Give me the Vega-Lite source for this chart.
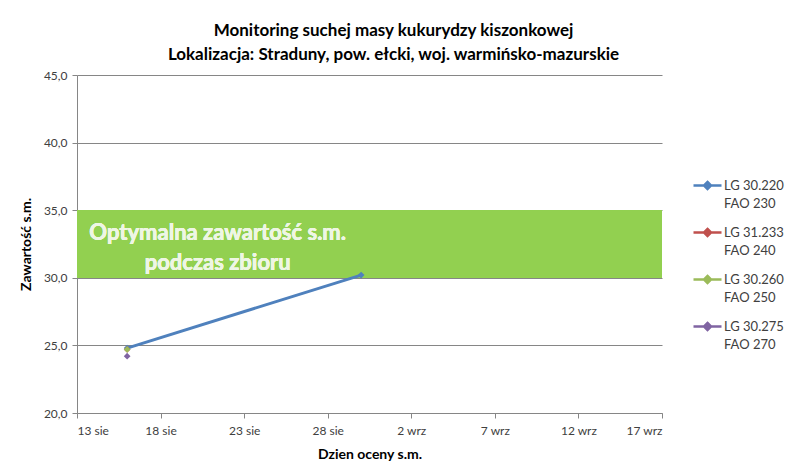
{
  "$schema": "https://vega.github.io/schema/vega-lite/v6.json",
  "width": 585,
  "height": 338,
  "autosize": {"type": "none"},
  "padding": {"left": 77, "top": 75, "right": 138, "bottom": 58},
  "background": "white",
  "title": {
    "text": ["Monitoring suchej masy kukurydzy kiszonkowej", "Lokalizacja: Straduny, pow. ełcki, woj. warmińsko-mazurskie"],
    "font": "Lato",
    "fontSize": 17,
    "fontWeight": "bold",
    "color": "#000000",
    "lineHeight": 24,
    "anchor": "middle",
    "dx": 24,
    "offset": 5
  },
  "config": {
    "view": {"stroke": null},
    "font": "Lato",
    "axis": {
      "labelFont": "Lato",
      "labelFontSize": 12,
      "labelColor": "#404040",
      "titleFont": "Lato",
      "titleFontSize": 14,
      "titleFontWeight": "bold",
      "titleColor": "#000000",
      "domainColor": "#868686",
      "tickColor": "#868686",
      "gridColor": "#868686",
      "tickSize": 5
    }
  },
  "data": {
    "values": [
      {"date": "2013/08/16", "value": 24.8, "series": "LG 30.220|FAO 230"},
      {"date": "2013/08/30", "value": 30.2, "series": "LG 30.220|FAO 230"},
      {"date": "2013/08/16", "value": 24.7, "series": "LG 31.233|FAO 240"},
      {"date": "2013/08/16", "value": 24.7, "series": "LG 30.260|FAO 250"},
      {"date": "2013/08/16", "value": 24.2, "series": "LG 30.275|FAO 270"}
    ]
  },
  "encoding": {
    "x": {
      "field": "date",
      "type": "temporal",
      "title": "Dzien oceny s.m.",
      "scale": {"domain": [{"year": 2013, "month": 8, "date": 13}, {"year": 2013, "month": 9, "date": 17}]},
      "axis": {
        "grid": false,
        "values": [
          {"year": 2013, "month": 8, "date": 13},
          {"year": 2013, "month": 8, "date": 18},
          {"year": 2013, "month": 8, "date": 23},
          {"year": 2013, "month": 8, "date": 28},
          {"year": 2013, "month": 9, "date": 2},
          {"year": 2013, "month": 9, "date": 7},
          {"year": 2013, "month": 9, "date": 12},
          {"year": 2013, "month": 9, "date": 17}
        ],
        "labelExpr": "date(datum.value) + ' ' + (month(datum.value) == 7 ? 'sie' : 'wrz')",
        "labelPadding": 7,
        "titlePadding": 11
      }
    },
    "y": {
      "field": "value",
      "type": "quantitative",
      "title": "Zawartość s.m.",
      "scale": {"domain": [20, 45], "nice": false, "zero": false},
      "axis": {
        "values": [20, 25, 30, 35, 40, 45],
        "labelExpr": "replace(format(datum.value, '.1f'), '.', ',')",
        "labelPadding": 5,
        "titlePadding": 10
      }
    }
  },
  "layer": [
    {
      "mark": {"type": "rect", "color": "#92D050", "opacity": 1},
      "encoding": {
        "x": {"datum": {"year": 2013, "month": 8, "date": 13}, "type": "temporal"},
        "x2": {"datum": {"year": 2013, "month": 9, "date": 17}},
        "y": {"datum": 30},
        "y2": {"datum": 35}
      }
    },
    {
      "mark": {
        "type": "text",
        "text": ["Optymalna zawartość s.m.", "podczas zbioru"],
        "font": "Lato",
        "fontSize": 22,
        "fontWeight": "bold",
        "color": "#EEF6E4",
        "lineHeight": 30,
        "align": "center",
        "baseline": "middle"
      },
      "encoding": {
        "x": {"datum": {"year": 2013, "month": 8, "date": 21, "hours": 10}, "type": "temporal"},
        "y": {"datum": 33.3}
      }
    },
    {
      "mark": {"type": "line", "strokeWidth": 3},
      "encoding": {
        "color": {
          "field": "series",
          "type": "nominal",
          "scale": {
            "domain": ["LG 30.220|FAO 230", "LG 31.233|FAO 240", "LG 30.260|FAO 250", "LG 30.275|FAO 270"],
            "range": ["#4F81BD", "#C0504D", "#9BBB59", "#8064A2"]
          },
          "legend": {
            "title": null,
            "orient": "none",
            "legendX": 615,
            "legendY": 95,
            "labelExpr": "split(datum.label, '|')",
            "labelFont": "Lato",
            "labelFontSize": 13,
            "labelColor": "#404040",
            "labelBaseline": "middle",
            "labelOffset": 1,
            "rowPadding": 6,
            "symbolType": "M-1,0L1,0M0,-0.25L0.25,0L0,0.25L-0.25,0Z",
            "symbolSize": 784,
            "symbolStrokeWidth": 2.5,
            "symbolOffset": 0,
            "encode": {
              "symbols": {
                "update": {
                  "fill": {"scale": "color", "field": "value"},
                  "stroke": {"scale": "color", "field": "value"}
                }
              },
              "labels": {
                "update": {
                  "lineHeight": {"value": 18}
                }
              }
            }
          }
        }
      }
    },
    {
      "mark": {"type": "point", "shape": "diamond", "filled": true, "size": 45, "opacity": 1},
      "encoding": {
        "color": {"field": "series", "type": "nominal"}
      }
    }
  ]
}
